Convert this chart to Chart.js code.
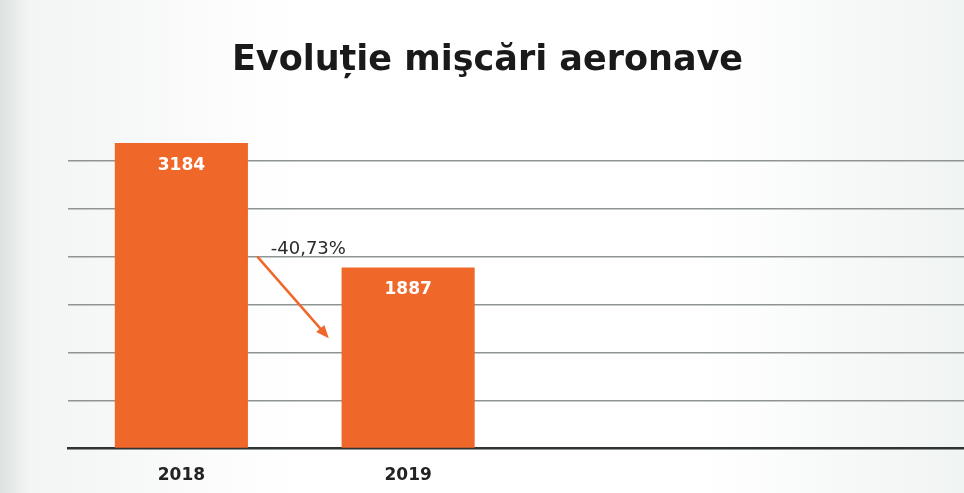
<!DOCTYPE html>
<html>
<head>
<meta charset="utf-8">
<script src="https://cdn.jsdelivr.net/npm/chart.js@4"></script>
<style>
  html, body { margin: 0; padding: 0; overflow: hidden; }
  body {
    width: 964px; height: 493px;
    background: linear-gradient(to right, #dde3e0 0px, #f2f5f3 30px, #ffffff 300px, #ffffff 700px, #f0f4f2 964px);
  }
  #wrap { position: relative; width: 975px; height: 510px; }
</style>
</head>
<body>
<div id="wrap"><canvas id="chart"></canvas></div>
<script>
const years = ["2018", "2019", "", ""];
const movements = [3184, 1887, null, null];
const changeLabel = "-40,73%";

const orange = "#f0672a";
const font = "'DejaVu Sans'";

// value labels, the arrow and the percent change, all placed through the scales
const annotations = {
  id: "annotations",
  afterDatasetsDraw(chart) {
    const ctx = chart.ctx;
    const x = chart.scales.x;
    const y = chart.scales.y;
    const meta = chart.getDatasetMeta(0);

    ctx.save();
    ctx.font = "bold 17px " + font;
    ctx.fillStyle = "#ffffff";
    ctx.textAlign = "center";
    ctx.textBaseline = "middle";
    meta.data.forEach((bar, i) => {
      if (movements[i] == null) return;
      ctx.fillText(String(movements[i]), bar.x, bar.y + 22.5);
    });

    // arrow from the first bar down to the second
    const x1 = x.getPixelForValue(0.335), y1 = y.getPixelForValue(2000);
    const x2 = x.getPixelForValue(0.65), y2 = y.getPixelForValue(1150);
    const ang = Math.atan2(y2 - y1, x2 - x1);
    ctx.strokeStyle = orange;
    ctx.fillStyle = orange;
    ctx.lineWidth = 2.5;
    ctx.beginPath();
    ctx.moveTo(x1, y1);
    ctx.lineTo(x2 - 8 * Math.cos(ang), y2 - 8 * Math.sin(ang));
    ctx.stroke();
    ctx.beginPath();
    ctx.moveTo(x2, y2);
    ctx.lineTo(x2 - 14 * Math.cos(ang - 0.4), y2 - 14 * Math.sin(ang - 0.4));
    ctx.lineTo(x2 - 14 * Math.cos(ang + 0.4), y2 - 14 * Math.sin(ang + 0.4));
    ctx.closePath();
    ctx.fill();

    ctx.font = "18px " + font;
    ctx.fillStyle = "#2a2a2a";
    ctx.fillText(changeLabel, x.getPixelForValue(0.56), y.getPixelForValue(2080));
    ctx.restore();
  }
};

new Chart(document.getElementById("chart"), {
  type: "bar",
  data: {
    labels: years,
    datasets: [{
      data: movements,
      backgroundColor: orange,
      categoryPercentage: 1,
      barPercentage: 0.587
    }]
  },
  options: {
    responsive: true,
    maintainAspectRatio: false,
    animation: false,
    layout: { padding: { left: 0, right: 0, top: 0, bottom: 7 } },
    plugins: {
      legend: { display: false },
      tooltip: { enabled: false },
      title: {
        display: true,
        text: "Evoluție mişcări aeronave",
        color: "#1a1a1a",
        font: { family: font, weight: "bold", size: 35 },
        padding: { top: 40, bottom: 30.6 },
        align: "center"
      }
    },
    scales: {
      x: {
        grid: { display: false, drawTicks: false },
        border: { display: true, color: "#2e3333", width: 2.5 },
        ticks: {
          color: "#222222",
          padding: 17,
          font: { family: font, weight: "bold", size: 17 }
        }
      },
      y: {
        min: 0,
        max: 3500,
        afterFit: s => { s.width = 68; },
        ticks: { display: false, stepSize: 500 },
        border: { display: false },
        grid: {
          drawTicks: false,
          lineWidth: 1.5,
          color: c => (c.tick.value === 3500 || c.tick.value === 0) ? "rgba(0,0,0,0)" : "#8f9494"
        }
      }
    }
  },
  plugins: [annotations]
});
</script>
</body>
</html>
